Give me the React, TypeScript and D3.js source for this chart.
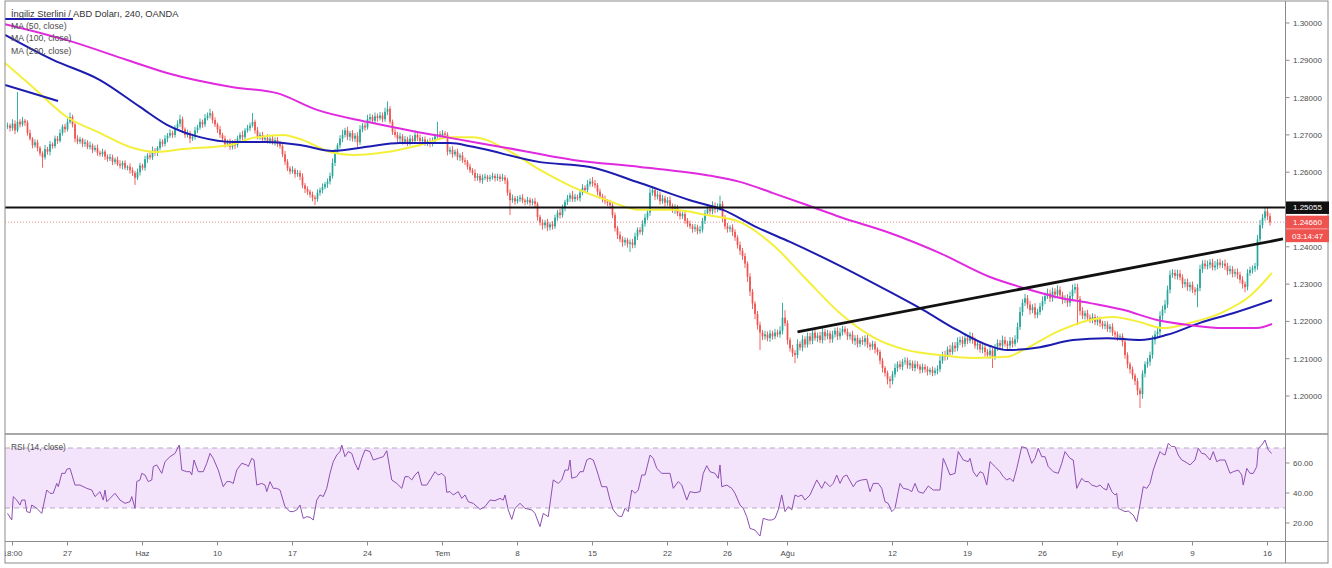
import React from 'react';
import * as d3 from 'd3';

// price = BASE + pips / 10000
const BASE = 1.2;
const FIRST_OPEN = 722;

// 4h closes, in pips above 1.2000 (506 candles)
const closes = [
  725,718,730,712,735,728,738,733,705,690,672,680,665,650,640,662,655,675,670,690,
  684,705,722,715,735,748,728,690,682,688,676,680,668,672,660,665,652,648,655,642,
  636,640,628,634,622,618,625,612,615,605,598,585,600,618,612,635,645,640,658,652,
  665,682,676,690,698,705,700,718,730,742,715,700,705,690,695,712,720,735,728,745,
  752,758,740,728,715,700,690,675,680,668,680,672,690,700,694,712,718,725,735,712,
  695,700,688,692,684,690,680,686,678,670,648,628,610,602,606,595,598,588,565,555,
  548,540,532,528,545,552,560,568,575,590,625,655,672,690,700,712,695,705,690,698,
  680,715,725,720,742,748,738,750,745,752,742,762,770,735,708,700,690,696,682,688,
  678,690,684,700,692,684,688,678,682,676,684,696,702,698,704,700,655,660,648,655,
  640,645,632,628,615,605,598,585,590,578,585,588,582,586,590,584,588,582,586,578,
  545,525,530,522,528,532,524,520,526,518,522,515,480,465,458,465,452,460,455,478,
  492,485,505,520,530,538,528,534,530,545,558,552,568,575,570,565,548,535,528,522,
  518,512,485,450,432,420,412,418,408,412,405,428,445,440,462,478,492,545,552,535,
  540,522,530,518,525,510,498,505,490,482,488,470,462,455,448,452,442,446,470,490,
  502,495,510,500,505,515,478,455,448,452,440,425,405,390,375,355,320,280,248,220,
  190,170,160,165,155,168,160,170,165,175,210,195,150,128,115,110,140,130,152,138,
  160,148,170,155,162,150,172,160,168,152,165,175,160,170,180,172,160,165,148,155,
  140,150,145,155,138,132,140,125,118,95,75,62,45,40,58,75,85,78,92,95,
  82,88,75,85,80,70,78,72,65,70,62,68,72,95,110,105,125,118,135,128,
  145,150,140,155,148,160,150,135,140,125,130,118,110,122,105,130,142,135,150,140,
  135,148,140,152,185,225,250,262,245,230,238,218,225,240,255,268,275,262,280,272,
  285,270,258,262,250,268,285,292,260,228,215,222,210,205,212,198,205,195,188,192,
  180,186,170,165,158,160,145,110,85,72,55,40,15,5,60,85,92,110,150,165,
  172,215,232,245,285,325,330,322,328,318,300,305,292,298,285,280,290,340,355,348,
  352,358,345,350,358,352,355,348,335,340,328,332,325,312,300,292,330,338,342,348,
  420,458,478,495,482,466,
];

// upper / lower wick lengths in pips
const wickUp = [
  8,6,12,9,80,7,10,5,6,9,4,8,7,5,6,11,6,9,5,8,
  7,10,6,8,9,12,6,5,9,7,4,8,6,10,5,7,9,6,8,5,
  6,9,7,5,8,10,6,7,4,9,8,6,10,7,5,9,6,8,11,7,
  5,8,6,9,7,10,6,8,9,12,7,5,9,6,8,10,7,9,6,11,
  8,12,6,7,5,9,6,8,7,10,6,9,8,7,11,6,9,8,24,6,
  9,7,8,5,10,6,9,7,8,6,5,9,7,6,10,5,8,7,9,6,
  7,5,8,6,9,7,10,6,8,9,12,8,6,9,14,7,10,6,8,7,
  9,11,7,8,12,9,6,10,7,9,8,11,20,7,6,9,8,10,6,9,
  7,10,8,12,6,9,7,8,6,10,9,7,33,8,9,6,7,8,10,6,
  8,6,9,7,5,8,6,10,7,6,9,8,5,7,9,6,8,7,10,6,
  7,9,10,6,8,7,9,5,8,6,7,9,5,6,8,7,10,6,9,8,
  7,10,8,6,9,7,12,8,6,9,10,7,11,8,12,9,6,8,7,9,
  6,8,5,7,6,9,8,7,6,8,9,10,7,8,9,10,8,12,9,7,
  10,8,9,7,8,10,6,9,7,8,6,9,7,8,6,9,7,10,8,9,
  10,8,12,9,11,22,8,7,9,6,8,7,6,9,7,8,6,9,7,6,
  8,9,7,10,8,9,7,10,8,12,40,20,8,7,9,8,12,7,11,8,
  10,9,12,7,8,10,11,8,9,7,10,8,9,12,8,7,9,6,10,8,
  9,7,10,8,9,6,8,7,5,6,7,5,6,8,9,12,8,10,7,9,
  8,9,7,10,8,6,9,7,8,6,9,8,10,12,9,11,8,12,9,10,
  12,9,10,14,8,12,9,7,8,6,9,7,8,10,7,9,10,8,12,9,
  8,10,9,11,12,14,10,12,9,10,8,11,9,10,12,9,13,10,11,9,
  12,9,10,8,11,12,14,10,9,8,10,7,9,8,10,7,9,8,7,9,
  8,7,9,6,8,7,8,6,7,6,7,6,8,7,9,8,10,9,12,10,
  11,12,10,13,11,12,10,9,11,10,8,9,10,8,9,7,10,12,9,10,
  11,9,10,12,9,10,8,11,9,10,8,9,10,8,9,7,10,9,8,9,
  12,14,10,12,12,8,
];
const wickDn = [
  6,9,7,10,5,8,6,9,7,5,8,6,9,7,28,6,8,10,7,6,
  8,5,7,9,6,5,8,10,7,6,9,8,6,7,9,5,8,6,7,9,
  8,6,9,7,5,8,10,6,7,9,8,19,6,9,7,8,10,6,7,8,
  9,6,8,7,10,6,8,7,5,9,10,8,7,12,6,8,7,6,9,7,
  6,8,9,7,10,8,7,9,6,8,7,10,6,8,9,7,6,8,5,9,
  7,8,6,9,7,8,6,9,10,7,8,9,7,8,6,10,7,9,8,11,
  9,8,10,16,7,8,9,6,10,8,7,9,6,8,10,7,9,11,8,9,
  12,7,8,9,6,10,8,7,9,6,8,7,9,6,8,7,9,10,8,7,
  8,6,9,7,8,6,10,7,8,9,7,8,6,9,7,8,10,7,9,6,
  8,10,7,9,8,7,6,9,8,7,9,6,8,7,6,9,7,8,6,10,
  8,40,7,9,6,8,7,9,6,8,7,9,10,8,12,9,10,8,9,7,
  8,9,7,10,8,9,7,8,6,9,7,8,10,7,9,8,10,7,9,8,
  9,10,8,9,11,8,12,9,10,22,9,8,10,7,9,8,7,9,8,10,
  8,9,7,10,8,9,7,10,8,9,7,8,9,7,10,8,9,7,8,9,
  7,9,8,10,7,9,12,8,10,9,11,9,10,12,10,12,14,12,15,14,
  12,47,10,9,8,10,9,8,7,9,10,8,12,9,10,22,9,8,10,9,
  8,10,9,7,10,8,9,11,8,10,9,8,10,9,8,7,10,9,8,12,
  10,9,8,12,9,10,8,11,9,10,12,10,14,19,9,8,10,7,9,8,
  9,10,8,9,7,10,8,9,10,8,9,7,10,8,9,10,8,9,7,10,
  8,9,10,8,9,7,10,8,11,9,10,12,9,10,30,8,9,7,10,8,
  9,8,10,7,9,8,10,9,11,12,8,10,9,8,10,9,8,10,9,11,
  9,10,12,9,11,10,9,10,70,12,9,10,8,9,10,8,9,10,8,9,
  8,10,9,8,10,9,12,10,11,12,10,11,13,37,12,10,9,11,10,12,
  10,12,11,10,9,10,8,9,10,8,11,9,10,12,9,10,42,9,10,8,
  9,10,8,9,10,8,9,10,11,9,10,9,11,10,12,14,9,8,10,9,
  10,8,9,8,10,9,
];

// moving averages: [candle index, pips above 1.2000]
const ma50 = [
  [-1,893],[10.2,828],[23.8,748],[37,705],[50.2,665],[59.8,654],[70.2,662],[89,673],[98.2,692],
  [110.2,700],[118.2,686],[129,654],[138.2,646],[151.8,654],[165,673],[177,694],[186.2,694],
  [199.8,660],[213,606],[226.2,560],[239.8,525],[253,499],[266.2,499],[279.8,485],[293,466],
  [306.2,405],[319.8,311],[333,222],[346.2,158],[359.8,123],[373,110],[386.2,102],[399.8,105],
  [406.2,123],[419.8,172],[433,204],[442.2,212],[453,198],[462.2,182],[473,196],[486.2,225],
  [497,268],[505.8,330],
];
const ma100 = [
  [-1,968],[18.2,901],[37,847],[53,775],[63.8,727],[77,694],[90.2,681],[103.8,681],[117,673],
  [130.2,657],[143.8,668],[157,678],[177,678],[186.2,668],[213,627],[233,614],[253,571],[273,525],
  [286.2,499],[299.8,452],[313,413],[333,349],[353,279],[366.2,231],[379.8,177],[393,134],
  [399.8,123],[413,131],[426.2,150],[439.8,155],[453,150],[463.8,164],[477,196],[490.2,222],
  [505.8,257],
];
const ma200 = [
  [-1,997],[23.8,954],[47.8,901],[63.8,866],[90.2,828],[107.8,812],[123.8,767],[143.8,735],
  [163.8,708],[177,692],[199.8,665],[226.2,633],[253,614],[279.8,592],[293,574],[306.2,544],
  [319.8,512],[333,480],[353,437],[373,383],[393,319],[406.2,290],[419.8,265],[433,249],
  [446.2,231],[459.8,204],[473,190],[486.2,182],[499.8,182],[505.8,193],
];

// RSI(14): [candle index, value]
const rsi = [
  [0,26.4],[1.7,22],[2.3,37.6],[3.7,35.3],[5,32],[5.7,35.3],[7,35.3],[7.7,27.6],[9,26.9],[9.7,32],
  [11.7,29.8],[13.7,26.4],[15.7,42],[17,39.8],[18.3,39.8],[19.7,46.4],[20.3,44.2],[21.7,53.1],
  [23,53.1],[23.7,55.8],[25,56.4],[27,45.3],[29,45.3],[31.7,43.1],[33.7,42],[35,37.6],[37,40.9],
  [38.3,35.3],[39,42],[39.7,34.2],[41,36.4],[43,39.8],[45,35.3],[47,33.1],[49,34.2],[49.7,37.6],
  [51,29.8],[51.7,47.6],[53,48.7],[53.7,53.1],[55,52],[56.3,47.6],[57.7,48.7],[58.3,57.6],
  [59.7,58.7],[61.7,53.1],[63,60.9],[65,64.2],[67,66.4],[67.7,68.7],[68.7,72],[69.7,55.3],
  [71.7,54.2],[73,54.2],[73.7,52],[74.6,62],[76.3,54.2],[78.3,54.2],[79.7,59.8],[81,66.4],
  [82.3,63.1],[84.3,55.3],[86.3,44.2],[87.7,47.6],[89,47.6],[90.3,46.4],[91.7,55.3],[93.7,59.8],
  [95.7,58.7],[96.3,57.6],[97.7,63.1],[98.6,62],[99.7,45.3],[101.7,46.4],[103,45.3],[103.7,40.9],
  [105,47.6],[106.3,43.1],[107.7,43.1],[109,42],[111,30.9],[113,27.6],[114.3,27.6],[115.7,28.7],
  [117,32],[118.3,23.1],[119.7,24.2],[121,23.8],[122.3,22],[123.7,35.3],[125,38.7],[126.3,37.6],
  [127.7,43.1],[129,53.1],[130.3,60.9],[131.7,65.3],[133,67.6],[133.7,72],[135,64.2],[136.3,67.6],
  [137.7,66.4],[139,59.8],[140.3,55.3],[141.7,63.1],[143,68.7],[145,67.6],[146.3,62],[148.3,63.1],
  [150.3,64.2],[151.7,68.2],[153.7,48.7],[155.7,46.4],[157.7,43.1],[159,50.9],[160.3,50.9],
  [161.7,48.7],[163,52],[164.3,54.2],[165.7,45.3],[167.7,45.3],[169,48.7],[171,54.2],[172.3,52],
  [173.7,53.1],[175,50.9],[175.7,40.5],[177,40.9],[178.3,38.7],[180.3,40.9],[181.7,36.4],[183,38.7],
  [184.3,34.2],[186.3,33.1],[189,29.1],[191,30.9],[193,35.3],[195,34.9],[197,36.4],[198.3,35.3],
  [199,38.7],[200.3,28.7],[201.7,22.4],[203,29.8],[205,33.1],[207,29.8],[209.7,28.7],[211,26.4],
  [213,17.6],[214.3,26.4],[216.3,24.2],[218.3,48.7],[220.3,46.4],[221.7,48.7],[223,55.3],
  [224.3,55.3],[225,62],[225.7,49.8],[227.7,50.9],[229,54.2],[230.3,54.2],[231.7,62],[233,63.1],
  [234.3,62],[235.7,55.3],[237.7,44.2],[239.7,44.2],[241,35.3],[242.3,28.7],[244.3,24.7],
  [245.7,24.2],[247,29.8],[248.3,27.6],[249.7,42],[251,39.8],[252.3,42],[253.7,52],[255,52],
  [257,65.3],[258.3,63.1],[259.7,56.4],[261.7,53.1],[265,53.1],[266.3,43.1],[268.3,47.6],
  [269.7,45.3],[271.7,35.3],[273,40.9],[275,40.2],[277,40.9],[278.3,53.1],[279.7,58.2],[281,54.2],
  [283,53.1],[284.3,49.8],[285,58.7],[285.7,44.2],[287.7,45.3],[289.7,43.1],[291,39.8],[293,32],
  [294.3,29.8],[295.7,24.2],[297,16.4],[299,15.3],[301,11.3],[302.3,23.1],[304.3,22],[305.7,22],
  [307,23.1],[308.3,28.7],[309.7,38.7],[311,27.6],[312.3,30.9],[313.7,28.7],[315,38.7],[316.3,37.6],
  [317.7,38.7],[319,35.3],[321,38.7],[323.7,48.7],[325.7,43.1],[327,47.6],[329,44.2],[330.3,46.4],
  [331.7,52],[333,46.4],[334.3,50.9],[335.7,52],[338.3,44.2],[339.7,47.6],[341.7,48.7],[343.7,49.1],
  [345,40.9],[346.3,46.4],[348.3,46.4],[349.7,43.1],[351,34.2],[352.3,33],[353.7,27.6],[355,29.8],
  [356.3,40.9],[357,46.4],[358.3,43.1],[360.3,42.4],[361.7,40.9],[363,46.4],[364.3,40.9],
  [366.3,39.8],[368.3,44.7],[370.3,42],[373,42],[374.3,63.1],[375.7,57.6],[377,52],[379,53.1],
  [380.3,67.6],[382.3,62],[384.3,60.9],[385,63.1],[386.3,54.2],[387.7,50.9],[389,54.2],[390.3,53.1],
  [391.7,45.3],[393,60.9],[395,57.6],[397,54.2],[398.3,50.9],[399.7,48.7],[401,49.8],[402.3,47.6],
  [403.7,56.4],[405.7,70.9],[407.7,69.8],[409.7,59.8],[411,63.1],[412.3,69.8],[413.7,64.2],
  [415,64.2],[416.3,57.6],[418.3,54.2],[420.3,53.1],[421.7,59.8],[423,67.6],[425,63.1],[426.3,62],
  [427.7,43.1],[429.7,49.8],[431,47.6],[432.3,47.6],[433.7,45.3],[435.7,44.2],[437,45.3],
  [438.3,43.1],[439.7,42],[440.3,46.4],[441.7,40.9],[443,38.7],[443.7,39.8],[444.3,29.8],
  [445.7,28.7],[447,27.6],[448.3,28],[450.3,25.3],[451.7,20.9],[453,32],[454.3,44.2],[455.7,43.1],
  [457,46.4],[458.3,55.3],[459.7,62],[461,67.6],[461.7,66.4],[463,65.3],[464.3,73.1],[465.7,70.9],
  [467,70.9],[468.3,65.3],[469.7,62],[471,60.9],[473,58.7],[475,62],[476.3,69.8],[477.7,66.4],
  [479,66],[481,62],[482.3,67.6],[483.7,60.9],[485,62],[487,62],[489,53.1],[490.3,54.2],[492.3,55.3],
  [493.7,52],[494.3,45.3],[495.7,56.4],[497,53.1],[498.3,53.1],[499.7,57.6],[500.3,69.8],[501.7,72],
  [503,75.3],[504.3,68.7],[505.7,66.4],
];

const priceTicks = [1.3, 1.29, 1.28, 1.27, 1.26, 1.25, 1.24, 1.23, 1.22, 1.21, 1.2];
const rsiTicks = [60, 40, 20];
const rsiBand = [70, 30];
const timeTickIdx = [2, 24, 54, 84, 114, 144, 174, 204, 234, 264, 288, 312, 354, 384, 414, 444, 474, 504];
const timeTickLabels = ['18:00', '27', 'Haz', '10', '17', '24', 'Tem', '8', '15', '22', '26', 'Ağu', '12', '19', '26', 'Eyl', '9', '16'];

const resistance = 1.25055;
const lastPrice = 1.2466;
const countdown = '03:14:47';
const trendLine = [[316, 1.2172], [510.2, 1.2421]];
const blueDrawings = [
  [[-1, 1.30107], [26.2, 1.30107]],
  [[-1, 1.28338], [20.2, 1.27909]],
];

const title = 'İngiliz Sterlini / ABD Doları, 240, OANDA';
const legend = ['MA (50, close)', 'MA (100, close)', 'MA (200, close)'];

const FONT = '"Liberation Sans", Arial, sans-serif';

export default function App() {
  const W = 1332, H = 568;
  const L = 5, R = 1285.5;
  const mainTop = 1, mainBot = 434, rsiBot = 541.5, axisBot = 563;

  const x = d3.scaleLinear().domain([0, 505]).range([7.5, 1270]);
  const y = d3.scaleLinear().domain([1.2, 1.3]).range([396, 23]);
  const yr = d3.scaleLinear().domain([20, 60]).range([523, 463]);
  const p = (v: number) => BASE + v / 10000;

  const candles = closes.map((c, i) => {
    const o = i === 0 ? FIRST_OPEN : closes[i - 1];
    return { i, o, c, h: Math.max(o, c) + wickUp[i], l: Math.min(o, c) - wickDn[i] };
  });

  const maLine = d3.line<number[]>().x(d => x(d[0])).y(d => y(p(d[1]))).curve(d3.curveMonotoneX);
  const priceLine = d3.line<number[]>().x(d => x(d[0])).y(d => y(d[1]));
  const rsiLine = d3.line<number[]>().x(d => x(d[0])).y(d => yr(d[1]));

  const up = '#26a69a', dn = '#ef5350';
  const axisColor = '#8c8c8c';
  const txt = '#4c4c4c';

  return (
    <svg width={W} height={H} style={{ position: 'absolute', left: 0, top: 0, background: '#fff' }} fontFamily={FONT}>
      <defs>
        <clipPath id="mainClip"><rect x={L} y={mainTop} width={R - L} height={mainBot - mainTop} /></clipPath>
        <clipPath id="rsiClip"><rect x={L} y={mainBot} width={R - L} height={rsiBot - mainBot} /></clipPath>
        <clipPath id="axisClip"><rect x={L} y={rsiBot} width={R - L} height={axisBot - rsiBot} /></clipPath>
      </defs>
      <rect x={0} y={0} width={W} height={H} fill="#fff" />

      {/* RSI band */}
      <rect x={L} y={yr(rsiBand[0])} width={R - L} height={yr(rsiBand[1]) - yr(rsiBand[0])} fill="#f3e4fb" />
      {rsiBand.map(v => (
        <line key={v} x1={L} x2={R} y1={yr(v)} y2={yr(v)} stroke="#b9a9c6" strokeDasharray="5,4" strokeWidth={1} />
      ))}

      {/* main pane */}
      <g clipPath="url(#mainClip)">
        <line x1={L} x2={R} y1={y(lastPrice)} y2={y(lastPrice)} stroke="#ef8f8c" strokeDasharray="1,2" strokeWidth={1} />
        {candles.map(d => {
          const col = d.c >= d.o ? up : dn;
          const cx = x(d.i);
          const top = y(p(Math.max(d.o, d.c)));
          const bot = y(p(Math.min(d.o, d.c)));
          return (
            <g key={d.i}>
              <line x1={cx} x2={cx} y1={y(p(d.h))} y2={y(p(d.l))} stroke={col} strokeWidth={0.9} />
              <rect x={cx - 0.85} y={top} width={1.7} height={Math.max(0.8, bot - top)} fill={col} />
            </g>
          );
        })}
        <path d={maLine(ma50) || ''} fill="none" stroke="#f4ef3a" strokeWidth={2} />
        <path d={maLine(ma100) || ''} fill="none" stroke="#1c1cb0" strokeWidth={2} />
        <path d={maLine(ma200) || ''} fill="none" stroke="#e12ae0" strokeWidth={2} />
        {blueDrawings.map((seg, k) => (
          <path key={k} d={priceLine(seg) || ''} fill="none" stroke="#1c1cb0" strokeWidth={2} />
        ))}
        <line x1={L} x2={R} y1={y(resistance)} y2={y(resistance)} stroke="#111" strokeWidth={2} />
        <path d={priceLine(trendLine) || ''} fill="none" stroke="#111" strokeWidth={2.8} />
      </g>

      {/* RSI line */}
      <g clipPath="url(#rsiClip)">
        <path d={rsiLine(rsi) || ''} fill="none" stroke="#8d4fb3" strokeWidth={1} />
      </g>

      {/* title + legend */}
      <text x={11} y={16.5} fontSize={9.3} fill="#333">{title}</text>
      {legend.map((t, k) => (
        <text key={t} x={11} y={28.5 + k * 12.5} fontSize={8.7} fill={txt}>{t}</text>
      ))}
      <text x={11} y={450} fontSize={8.3} fill={txt}>RSI (14, close)</text>

      {/* frame */}
      <rect x={L} y={mainTop} width={1328 - L} height={axisBot - mainTop} fill="none" stroke={axisColor} strokeWidth={1} />
      <line x1={L} x2={1328} y1={mainBot} y2={mainBot} stroke={axisColor} strokeWidth={1.6} />
      <line x1={L} x2={1328} y1={rsiBot} y2={rsiBot} stroke={axisColor} strokeWidth={1} />
      <line x1={R} x2={R} y1={mainTop} y2={axisBot} stroke={axisColor} strokeWidth={1} />

      {/* price axis */}
      {priceTicks.map(v => (
        <g key={v}>
          <line x1={R} x2={R + 4} y1={y(v)} y2={y(v)} stroke={axisColor} />
          <text x={1293} y={y(v) + 3} fontSize={8} fill={txt}>{v.toFixed(5)}</text>
        </g>
      ))}
      {rsiTicks.map(v => (
        <g key={v}>
          <line x1={R} x2={R + 4} y1={yr(v)} y2={yr(v)} stroke={axisColor} />
          <text x={1293} y={yr(v) + 3} fontSize={8} fill={txt}>{v.toFixed(2)}</text>
        </g>
      ))}
      <rect x={R + 0.5} y={y(resistance) - 6} width={43} height={12.5} fill="#111" />
      <text x={1293} y={y(resistance) + 3} fontSize={8} fill="#fff">{resistance.toFixed(5)}</text>
      <rect x={R + 0.5} y={y(lastPrice) - 6.5} width={43} height={13} fill="#ef5350" />
      <text x={1293} y={y(lastPrice) + 3} fontSize={8} fill="#fff">{lastPrice.toFixed(5)}</text>
      <rect x={R + 0.5} y={y(lastPrice) + 7} width={43} height={13} fill="#ef5350" />
      <text x={1292} y={y(lastPrice) + 16.5} fontSize={8} fill="#fff">{countdown}</text>

      {/* time axis */}
      <g clipPath="url(#axisClip)">
        {timeTickIdx.map((t, k) => (
          <g key={k}>
            <line x1={x(t)} x2={x(t)} y1={rsiBot} y2={rsiBot + 4} stroke={axisColor} />
            <text x={x(t)} y={556} fontSize={8} fill={txt} textAnchor="middle">{timeTickLabels[k]}</text>
          </g>
        ))}
      </g>
    </svg>
  );
}
